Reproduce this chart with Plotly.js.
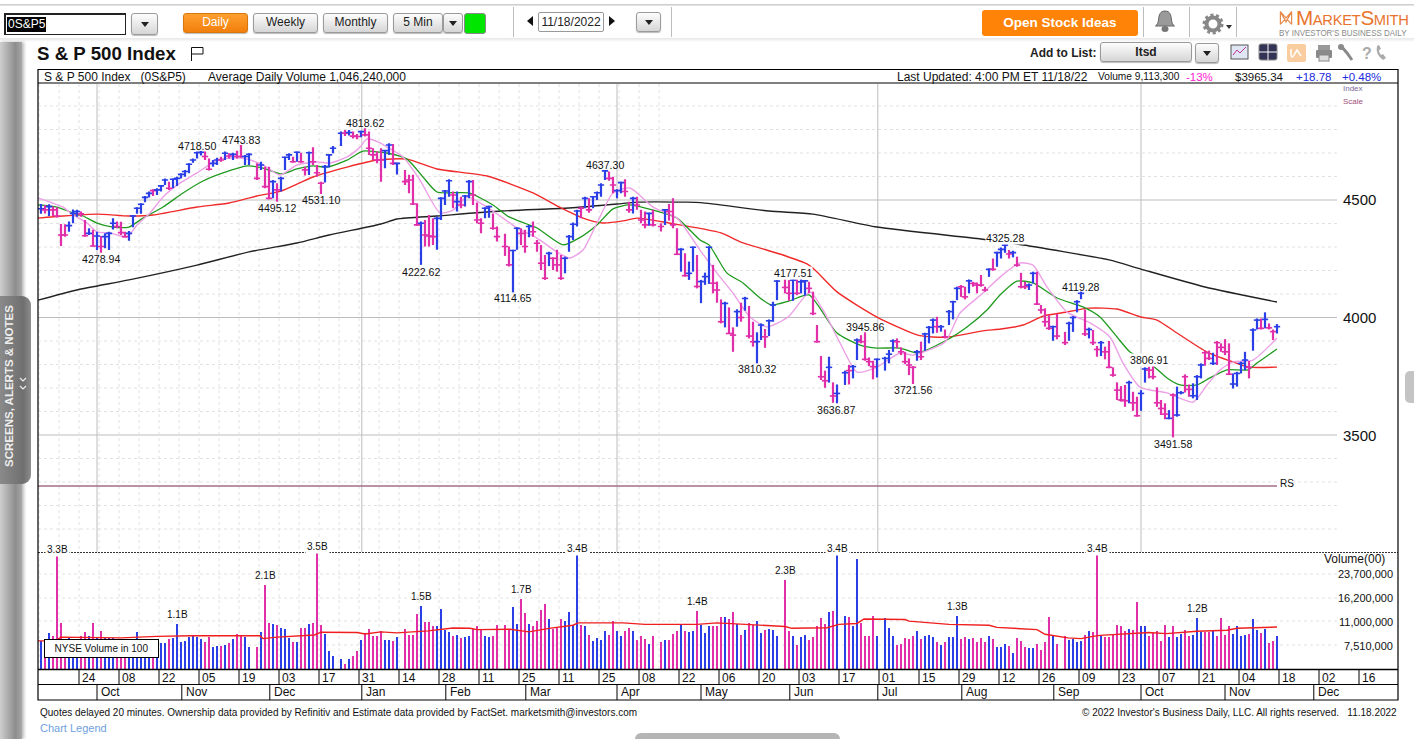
<!DOCTYPE html>
<html><head><meta charset="utf-8">
<script src="https://cdn.plot.ly/plotly-3.0.1.min.js"></script>
<style>
html,body{margin:0;padding:0;background:#fff;width:1414px;height:739px;overflow:hidden;font-family:"Liberation Sans",Arial,sans-serif;}
#chart{position:absolute;left:0;top:0;width:1414px;height:739px;}
.c{position:absolute;box-sizing:border-box;white-space:nowrap;}
.btn{border:1px solid #9a9a9a;border-radius:3px;background:linear-gradient(#fdfdfd,#d6d6d6);font-size:12px;color:#222;text-align:center;line-height:17px;box-shadow:0 1px 1px #bbb;}
.org{border:1px solid #d9770f;border-radius:3px;background:linear-gradient(#ffa030,#f27f0c);color:#fff;}
.dd:after{content:"";position:absolute;left:50%;top:50%;margin:-2px 0 0 -4px;border:4px solid transparent;border-top:5px solid #222;border-bottom:0;}
.sep{width:1px;background:#bdbdbd;top:7px;height:30px;}
</style></head><body>
<div id="chart"></div>

<!-- page chrome -->
<div class="c" style="left:0;top:0;width:1414px;height:6px;background:linear-gradient(#fff 60%,#c8c8c8 70%,#eee);"></div>
<div class="c" style="left:0;top:38px;width:1414px;height:4px;background:linear-gradient(#e6e6e6,#fff);"></div>
<div class="c" style="left:4px;top:13px;width:122px;height:22px;border:1px solid #222;border-left-width:2px;border-top-width:2px;background:#fff;"><span style="position:absolute;left:1px;top:2px;background:#000;color:#fff;font-size:12px;line-height:15px;padding:0 1px;">0S&amp;P5</span></div>
<div class="c btn dd" style="left:131px;top:13px;width:27px;height:22px;"></div>
<div class="c btn org" style="left:183px;top:13px;width:65px;height:20px;">Daily</div>
<div class="c btn" style="left:253px;top:13px;width:65px;height:20px;">Weekly</div>
<div class="c btn" style="left:323px;top:13px;width:65px;height:20px;">Monthly</div>
<div class="c btn" style="left:393px;top:13px;width:50px;height:20px;">5 Min</div>
<div class="c btn dd" style="left:443px;top:13px;width:20px;height:20px;"></div>
<div class="c" style="left:464px;top:13px;width:22px;height:21px;background:#00e600;border:1px solid #888;border-radius:3px;"></div>
<div class="c sep" style="left:513px;"></div>
<div class="c" style="left:527px;top:16px;border:5px solid transparent;border-right:6px solid #111;border-left:0;"></div>
<div class="c" style="left:538px;top:12px;width:66px;height:20px;border:1px solid #999;border-radius:2px;font-size:12px;line-height:18px;text-align:center;color:#222;">11/18/2022</div>
<div class="c" style="left:609px;top:16px;border:5px solid transparent;border-left:6px solid #111;border-right:0;"></div>
<div class="c btn dd" style="left:636px;top:12px;width:25px;height:20px;"></div>
<div class="c sep" style="left:671px;"></div>
<div class="c" style="left:982px;top:10px;width:156px;height:26px;background:#ff8306;border-radius:3px;color:#fff;font-weight:bold;font-size:13.5px;line-height:26px;text-align:center;">Open Stock Ideas</div>
<div class="c sep" style="left:1143px;"></div>
<svg class="c" style="left:1152px;top:10px;" width="26" height="24" viewBox="0 0 26 24"><path d="M13 1c-5 0-6 4-6.500 9-.3 3-1.500 5-3 6h19c-1.500-1-2.700-3-3-6C19 5 18 1 13 1z" fill="#9a9a9a" stroke="#666"/><ellipse cx="13" cy="19" rx="3.500" ry="3" fill="#777"/></svg>
<div class="c sep" style="left:1189px;"></div>
<svg class="c" style="left:1202px;top:13px;" width="22" height="22" viewBox="0 0 22 22"><circle cx="11" cy="11" r="6.500" fill="none" stroke="#888" stroke-width="4"/><circle cx="11" cy="11" r="9" fill="none" stroke="#888" stroke-width="3" stroke-dasharray="3 2.650"/></svg>
<div class="c" style="left:1226px;top:25px;border:3px solid transparent;border-top:4px solid #333;border-bottom:0;"></div>
<div class="c sep" style="left:1236px;"></div>
<svg class="c" style="left:1278px;top:10px;" width="16" height="16" viewBox="0 0 16 20"><path d="M1 18V2l7 13 7-13v16M1 2l14 16M15 2L1 18" fill="none" stroke="#e98a4a" stroke-width="1.500"/></svg>
<div class="c" style="left:1296px;top:6px;color:#e8742c;font-size:21px;font-variant:small-caps;line-height:24px;letter-spacing:-.3px;transform-origin:left;transform:scaleX(.98);">MarketSmith</div>
<div class="c" style="left:1279px;top:27px;color:#8a8a8a;font-size:9.500px;line-height:11px;transform-origin:left;transform:scaleX(.84);">BY INVESTOR'S BUSINESS DAILY</div>

<div class="c" style="left:37px;top:43px;font-size:18.700px;font-weight:bold;line-height:21px;color:#111;">S &amp; P 500 Index</div>
<svg class="c" style="left:190px;top:46px;" width="14" height="15" viewBox="0 0 14 15"><path d="M1.500 15V1.500H13V8H1.500" fill="none" stroke="#111"/></svg>
<div class="c" style="left:1030px;top:45px;font-size:13px;font-weight:bold;color:#222;line-height:15px;transform-origin:left;transform:scaleX(.92);">Add to List:</div>
<div class="c btn" style="left:1100px;top:42px;width:92px;height:20px;font-weight:bold;line-height:18px;">Itsd</div>
<div class="c btn dd" style="left:1195px;top:43px;width:24px;height:20px;"></div>
<svg class="c" style="left:1229px;top:43px;" width="172" height="20" viewBox="0 0 172 20">
<rect x="2" y="2" width="17" height="14" fill="#dfe6f4" stroke="#555"/><path d="M4 12l4-5 3 3 6-6" fill="none" stroke="#c2339a"/>
<rect x="30" y="1" width="18" height="16" rx="2" fill="#335" stroke="#888"/><path d="M39 1v16M30 9h18" stroke="#fff"/>
<rect x="58" y="1" width="19" height="18" rx="2" fill="#f9cda0"/><path d="M62 6v6q1 4 3 0l3-5 4 6" fill="none" stroke="#fff" stroke-width="1.500"/>
<rect x="89" y="2" width="12" height="5" fill="#999"/><rect x="87" y="7" width="16" height="8" rx="1" fill="#8a8a8a"/><rect x="90" y="12" width="10" height="6" fill="#ddd" stroke="#888"/>
<path d="M112 3l6 7 5 7" stroke="#8a8a8a" stroke-width="3" fill="none"/><circle cx="112" cy="4" r="3" fill="#8a8a8a"/>
<text x="133" y="16" font-size="16" font-weight="bold" fill="#aaa" font-family="Liberation Sans">?</text>
<path d="M148 3q-2 8 6 14l3-2-3-4-2 1q-2-2-2-5l2-1-2-4z" fill="#aaa"/></svg>

<!-- left panel -->
<div class="c" style="left:0;top:42px;width:22px;height:697px;background:linear-gradient(90deg,#cfcfcf,#8d8d8d 70%,#a8a8a8);box-shadow:2px 0 3px #bbb;"></div>
<div class="c" style="left:0;top:296px;width:31px;height:188px;background:linear-gradient(90deg,#8a8a8a,#6f6f6f 75%,#8d8d8d);border-radius:0 9px 9px 0;"></div>
<div class="c" style="left:9px;top:386px;width:0;height:0;"><div style="position:absolute;transform:translate(-50%,-50%) rotate(-90deg);color:#eee;font-weight:bold;font-size:11.500px;white-space:nowrap;">SCREENS, ALERTS &amp; NOTES</div></div>
<svg class="c" style="left:19px;top:376px;" width="8" height="16" viewBox="0 0 8 16"><path d="M1 2l3 3 3-3M1 10l3 3 3-3" fill="none" stroke="#eee" stroke-width="1.200"/></svg>
<div class="c" style="left:1405px;top:371px;width:9px;height:32px;background:#c4c4c4;border-radius:5px 0 0 5px;"></div>
<div class="c" style="left:635px;top:733px;width:205px;height:6px;background:#b5b5b5;border-radius:6px 6px 0 0;"></div>

<script>
// Direction of each weekday bar, Sep 13 2021 .. Nov 18 2022 (u = up, d = down, n = market closed)
const barDir = (
 "u d u d d d d u u u  d d u d u d u u u d  d d u u u u u u d u  u u d u u u u u u u  u d d u u d u d u d "+
 "d u u n d u d d u d  u u u d u d d u d d  d u u u n u d u d d  u d d d d d u u d u  n d d d d u d d d u "+
 "u u u d u d u u d d  d u u d d n d d u u  d d u d d d d u d d  d u u u u d u d u u  u u d d u u d d u d "+
 "d d u d n d u d d d  u d u u d u u u d d  d u d d u d u d d u  u d u u u n d d u d  u u d d d d d u d u "+
 "n u d u u d d d d u  n u u u d d d d d u  d u u u d u d u u u  d d u d d d d u d u  u u d u d d d u u d "+
 "d d d u d n d u u u  u d u d d u d d d d  d d u d d u u d d d  d d u d u u d d u u  u d d u d d d d u u "+
 "u u d u u d u d d u"
).trim().split(/\s+/);

const priceHigh = [
4483,4479,4482,4472,4469,4398,4397,4408,4460,4458, 4451,4415,4380,4373,4365,4347,4358,4365,4422,4408,
4407,4365,4368,4436,4469,4486,4517,4536,4546,4550, 4564,4592,4578,4592,4599,4614,4628,4656,4677,4706,
4709,4706,4677,4670,4680,4684,4706,4699,4701,4710, 4734,4692,4699,null,4656,4663,4642,4642,4585,4571,
4599,4684,4699,4684,4706,4701,4642,4706,4724,4649, 4578,4649,4694,4730,null,4791,4798,4798,4791,4781,
4795,4805,4791,4720,4706,4720,4713,4741,4738,4659, null,4628,4607,4607,4486,4408,4415,4436,4422,4429,
4512,4543,4588,4536,4536,4514,4521,4585,4585,4489, 4422,4469,4476,4443,4387,null,4356,4302,4288,4384,
4380,4373,4394,4408,4330,4309,4266,4280,4256,4288, 4266,4259,4351,4404,4458,4472,4514,4507,4517,4536,
4571,4628,4621,4599,4546,4578,4588,4493,4514,4514, 4458,4451,4446,4458,null,4401,4462,4483,4507,4380,
4295,4273,4238,4302,4266,4160,4191,4302,4224,4153, 4077,4067,4043,3958,4035,4063,4088,4049,3982,3937,
3975,3951,3992,4067,4159,null,4162,4159,4166,4162, 4163,4159,4152,4110,3968,3836,3774,3833,3724,3715,
null,3774,3798,3798,3911,3925,3937,3830,3816,3826, null,3833,3862,3907,3911,3873,3854,3826,3793,3862,
3897,3935,3964,3996,4003,3968,3949,4032,4071,4131, 4138,4131,4162,4152,4149,4181,4131,4209,4251,4280,
4298,4315,4287,4284,4259,4190,4152,4145,4195,4195, 4053,4039,4010,3965,4015,null,3939,3982,4006,4074,
4110,4034,3957,3947,3879,3900,3876,3900,3788,3724, 3708,3713,3731,3684,3663,3691,3788,3791,3798,3703,
3649,3635,3606,3677,3706,3687,3758,3715,3720,3755, 3805,3859,3859,3850,3900,3890,3908,3890,3762,3769,
3812,3854,3815,3954,3996,3996,4022,3975,3949,3972];

const priceLow = [
4441,4443,4432,4432,4426,4304,4344,4365,4401,4429, 4429,4344,4351,4302,4287,4276,4295,4287,4375,4380,
4351,4341,4327,4384,4441,4441,4490,4511,4517,4521, 4536,4564,4543,4550,4560,4592,4599,4614,4659,4677,
4689,4670,4625,4642,4649,4663,4670,4677,4670,4677, 4680,4649,4649,null,4585,4628,4550,4503,4507,4493,
4536,4628,4670,4659,4663,4659,4604,4606,4649,4599, 4526,4574,4638,4699,null,4730,4772,4774,4762,4758,
4767,4770,4692,4670,4656,4578,4635,4692,4649,4609, null,4564,4529,4479,4390,4224,4302,4302,4309,4288,
4415,4479,4514,4465,4451,4465,4472,4507,4479,4401, 4358,4422,4425,4373,4323,null,4262,4217,4107,4288,
4309,4276,4341,4344,4280,4202,4160,4219,4202,4195, 4160,4188,4280,4330,4387,4422,4465,4446,4465,4500,
4514,4585,4582,4529,4507,4529,4514,4446,4443,4458, 4401,4380,4390,4387,null,4366,4394,4412,4380,4266,
4195,4174,4160,4195,4124,4061,4139,4143,4103,4063, 3975,3958,3930,3854,3961,3982,4029,3911,3876,3805,
3904,3871,3921,3982,4074,null,4103,4071,4071,4095, 4103,4093,4103,4010,3893,3734,3701,3723,3637,3635,
null,3713,3715,3741,3819,3890,3816,3793,3737,3745, null,3774,3805,3854,3869,3840,3802,3755,3717,3816,
3819,3859,3890,3932,3935,3940,3911,3968,3992,4074, 4088,4077,4103,4131,4103,4131,4110,4173,4199,4216,
4251,4276,4251,4256,4216,4124,4121,4117,4145,4053, 4017,3961,3947,3901,3907,null,3883,3901,3939,4022,
4078,3921,3911,3883,3833,3836,3822,3784,3748,3649, 3642,3620,3635,3603,3578,3603,3723,3741,3737,3620,
3585,3567,3567,3490,3578,3673,3681,3663,3656,3649, 3741,3795,3819,3798,3798,3854,3840,3755,3698,3706,
3762,3776,3741,3859,3949,3949,3954,3949,3904,3932];

const priceClose = [
4463,4458,4472,4458,4432,4351,4351,4391,4443,4451, 4441,4348,4358,4304,4347,4302,4344,4358,4401,4387,
4361,4344,4358,4432,4465,4482,4511,4528,4540,4543, 4560,4585,4550,4588,4592,4609,4621,4652,4670,4701,
4703,4685,4631,4656,4670,4670,4699,4687,4694,4685, 4685,4685,4694,null,4592,4649,4557,4507,4578,4543,
4592,4682,4692,4663,4703,4663,4628,4701,4663,4616, 4571,4642,4692,4720,null,4784,4784,4787,4772,4770,
4791,4777,4720,4692,4670,4670,4710,4734,4656,4656, null,4578,4585,4483,4394,4401,4351,4347,4344,4422,
4507,4538,4582,4521,4493,4479,4517,4578,4521,4415, 4401,4465,4472,4380,4344,null,4302,4224,4285,4380,
4358,4302,4387,4365,4316,4231,4167,4273,4252,4224, 4167,4252,4344,4397,4453,4465,4507,4458,4514,4531,
4564,4624,4592,4564,4540,4574,4536,4458,4507,4479, 4415,4394,4443,4394,null,4387,4458,4451,4394,4269,
4290,4178,4188,4299,4132,4153,4174,4299,4146,4117, 3982,4060,3932,3925,4025,4000,4081,3921,3897,3897,
3968,3918,3986,4053,4155,null,4128,4103,4159,4103, 4152,4156,4124,4017,3897,3748,3731,3788,3666,3677,
null,3765,3774,3791,3904,3897,3822,3812,3791,3822, null,3826,3844,3900,3897,3854,3812,3798,3788,3854,
3833,3930,3958,3989,3961,3961,3918,4025,4067,4124, 4131,4088,4156,4145,4138,4138,4117,4205,4205,4276,
4290,4308,4270,4276,4223,4131,4131,4138,4188,4057, 4032,3982,3954,3961,3921,null,3893,3975,4000,4067,
4103,3930,3949,3893,3864,3893,3854,3788,3755,3691, 3649,3646,3723,3637,3582,3677,3781,3776,3748,3637,
3613,3589,3571,3670,3585,3680,3748,3694,3667,3748, 3798,3850,3826,3805,3893,3873,3854,3759,3717,3762,
3805,3819,3788,3947,3989,3954,3992,3956,3940,3961];

// Volume in millions of (00) shares, as on the right-hand scale
const volumeM = [
8.05,8.05,9.2,8.8,31.3,10.8,8.35,8.45,8.05,8.05, 8.7,9.35,8.7,10.8,8.6,9.5,8.45,8.45,8.45,8.05,
7.9,7.8,7.8,7.9,9.35,7.95,7.8,7.8,7.8,7.9, 7.85,7.8,8.3,8.5,10.6,7.95,8.05,8.6,8.8,8.6,
8.35,8.0,8.6,7.4,7.5,7.5,7.6,7.8,8.3,9.0, 8.95,8.6,7.3,null,7.3,9.35,19.8,10.8,10.55,10.5,
10,9.8,8.5,7.95,7.95,9.9,10,10.6,10.8,33, 10.5,9.1,6.9,6.4,null,6.1,5.6,6.1,6.4,6.85,
8.2,9.2,9.8,8.7,8.7,9.5,8.2,8.2,8.05,8.6, null,9.8,8.95,8.95,12.4,14.2,11,11,10.2,10.2,
13.5,9.7,9.3,8.7,8.85,8.45,8.6,8.7,9.8,10.3, 9.8,8.8,8.6,8.8,10.5,null,10.5,9.8,14,10.6,
15.9,12.6,10.6,10.2,11.2,13.3,14.7,11.4,9.75,9.95, 11.4,11.2,12.9,10.5,32.2,10.5,10.2,8.95,8.05,8.45,
8.2,9.5,8.95,11.2,9.5,8.8,9.5,10,9.5,8.2, 8.8,8.3,7.75,8.8,null,7.95,8.2,8.2,9.05,9.5,
10.5,9.5,9.35,9.5,13.1,10.5,9.2,10.3,10.3,10.2, 11.9,11.9,11.4,12.9,10.6,8.95,9.65,10.8,10.5,11.2,
9.2,9.65,9.8,9.65,8.8,null,21.5,9.5,8.7,7.6, 8.6,8.95,8.2,8.6,10.2,11.6,10.6,12.9,13.1,31.9,
null,12.1,11.9,10.3,30.1,10.8,8.8,8.8,12.1,8.8, null,11.6,10,8.7,7.6,7.75,8.45,8.3,8.7,9.5,
8.3,8.7,8.95,8.6,7.95,7.6,7.95,8.6,8.6,12.1, 8.3,8.6,8.3,8.45,7.95,8.45,7.95,8.7,8.3,7.4,
7.3,7.75,7.5,6.7,8.45,8.05,7.4,7.2,7.2,7.75, 7.0,7.95,11.9,8.7,7.75,null,8.8,8.2,8.3,7.95,
8.05,8.95,9.5,9.35,31.9,8.7,8.6,8.6,8.95,10.5, 10.2,9.5,9.8,9.65,15.2,10.3,10.3,8.8,9.2,9.5,
8.05,10.5,8.6,10.3,8.6,9.05,9.65,8.7,8.95,11.6, 9.35,9.35,9.35,9.65,8.7,11.6,8.95,10.2,9.05,10.3,
8.8,8.95,9.05,11.4,9.65,9.2,9.8,7.85,8.05,8.7];

// Moving averages: bar position, value
const ma200Idx = [-0.75,9,22,39,52,64,72,85,89,99,115,132,144,149,161,165,182,193,209,235,244,267,275,291,309];
const ma200Val = [4074,4117,4160,4223,4279,4317,4351,4398,4419,4432,4453,4466,4483,4491,4491,4489,4453,4440,4385,4334,4313,4245,4206,4130,4066];

const ma50Idx = [-0.75,5.5,14,22,28,39,47,54,60,68,76.5,84,91.5,99,111.5,123,130,135.5,140.5,145.5,149,157,170,175,185.5,191.5,193.5,199,209,219,223,227,235.5,240,245.5,250.5,255,262,269,275,279,284,291.5,298,302,309];
const ma50Val = [4423,4432,4440,4432,4436,4470,4487,4517,4538,4598,4640,4670,4674,4632,4602,4530,4466,4423,4402,4411,4423,4402,4360,4321,4266,4228,4202,4109,4002,3926,3917,3917,3943,3951,3968,4006,4019,4040,4036,4002,3989,3934,3853,3811,3789,3789];

const ma21Idx = [-0.75,4,8,10.5,14,18,22,25.5,30.5,35.5,40.5,45.5,51.5,55.5,60,64,68,71.5,76.5,80.5,84.5,86.5,91.5,95.5,99,107,113,117,124,130.5,134.5,139,143,147,153,159,164.75,167,171.5,175.5,179.75,182.75,187,192,199,204.75,209,214.75,219,226,231.5,236.5,239.75,244,248,254,260.5,264.75,269,272.25,277.75,281.5,284.75,289,292.25,296.5,301.75,304,309];
const ma21Val = [4479,4470,4445,4432,4402,4385,4385,4423,4470,4530,4581,4615,4645,4636,4611,4632,4645,4640,4670,4708,4704,4700,4674,4598,4534,4530,4479,4428,4381,4309,4338,4394,4462,4479,4457,4423,4330,4309,4189,4147,4083,4053,4070,4096,3934,3883,3870,3870,3849,3900,3960,4032,4096,4155,4147,4083,4045,4002,3917,3853,3798,3743,3713,3713,3743,3777,3777,3806,3866];

const ma10Idx = [-0.75,2.25,5.5,8,11.5,14,17.25,21.5,24,27.25,30.5,34.75,39,44,47.25,51.5,55.5,59.75,64,69,72.25,76.5,79.75,81.5,84.75,86.5,90.5,94.75,99.75,103,106.5,111.5,115.5,119,124,129,132.25,135.5,139,143,147.25,153,159,164.75,169,173,177.25,181.5,186.75,192.25,195.5,199.75,204,209,214.75,218,226,229.75,235.5,239.75,244.75,248,251.5,256.5,262.25,267.25,270.5,274.75,281.5,288,291.5,294.75,298,303,309];
const ma10Val = [4509,4491,4470,4436,4402,4364,4360,4343,4394,4445,4513,4572,4615,4670,4679,4674,4649,4606,4649,4662,4657,4683,4725,4760,4743,4725,4683,4585,4445,4457,4513,4470,4423,4381,4338,4279,4253,4287,4402,4530,4551,4470,4423,4287,4189,4104,4002,3960,4002,4109,4032,3892,3768,3789,3849,3840,3896,4019,4104,4172,4232,4223,4130,4023,3977,3917,3806,3704,3679,3640,3713,3777,3811,3819,3913];

const volMaIdx = [-0.75,3.5,5,20,29,37.5,51,54.7,55.5,59,68.4,70,79,81,85,89,96.75,103,107.25,109,117.25,122,127,133,134.25,145.5,151,164,169,176,186,187.75,196.5,199.5,204,205.75,216,217,227,237,239,249,251,256.75,260,263,264.75,277,281.25,289,296.5,299,309];
const volMaVal = [8.1,8.1,8.6,8.5,8.7,8.8,8.8,8.8,8.4,8.6,8.9,9.3,9.25,9.05,9.35,9.2,9.5,9.95,9.9,9.7,9.75,9.35,9.9,10.4,10.8,10.8,10.55,10.55,10.8,10.5,10.2,9.9,10,10.55,10.7,11.5,11.4,11.1,10.55,10.4,10.05,9.7,9,8.5,8.4,8.7,8.85,9.25,9.1,9.45,9.6,9.9,10.1];

const rsIdx = [-0.75,309];
const rsVal = [3283,3283];

const peakIdx   = [15,39,50,81,59,70,95,118,141,179,188,198.75,206,218,241,260,277,283];
const peakY     = [4249,4728,4755,4828,4466,4500,4194,4083,4649,3781,4189,3606,3960,3692,4338,4130,3819,3462];
const peakText  = ["4278.94","4718.50","4743.83","4818.62","4495.12","4531.10","4222.62","4114.65","4637.30","3810.32","4177.51","3636.87","3945.86","3721.56","4325.28","4119.28","3806.91","3491.58"];

const volLabelIdx  = [4,34,56,69,95,120,134,164,186,199,229,264,289];
const volLabelText = ["3.3B","1.1B","2.1B","3.5B","1.5B","1.7B","3.4B","1.4B","2.3B","3.4B","1.3B","3.4B","1.2B"];

const priceTicks = [4500,4000,3500];
const volTicks = [23.7,16.2,11,7.51];
const volTickText = ["23,700,000","16,200,000","11,000,000","7,510,000"];

const weekLabels = ["24","08","22","05","19","03","17","31","14","28","11","25","11","25","08","22","06","20","03","17","01","15","29","12","26","09","23","07","21","04","18","02","16"];
const monthLabels = ["Oct","Nov","Dec","Jan","Feb","Mar","Apr","May","Jun","Jul","Aug","Sep","Oct","Nov","Dec"];
const monthIdx = [14,35.2,57.2,80.2,101.2,121.2,144,165,187.2,209.2,230.2,253.2,275,296,318.2];
const quarterIdx = [14,80.2,144,209.2,275];

const BLUE="#2a3fe6", MAG="#e02fa8", FONT="Liberation Sans, Arial, sans-serif";
const W=1414,H=739,FX0=38,FX1=1398;
const px=x=>x/W, py=y=>1-y/H;
const idx=priceClose.map((_,i)=>i);
const X0=-0.75, X1=339.25, XGRID=324;

function stems(d){const x=[],y=[];idx.forEach(i=>{if(barDir[i]===d&&priceHigh[i]!==null){x.push(i,i,null);y.push(priceHigh[i],priceLow[i],null);}});return{x,y};}
const up=stems("u"),dn=stems("d");
const closeI=idx.filter(i=>priceClose[i]!==null);

const line=(x,y,c,w,ya)=>({type:"scatter",mode:"lines",x,y,yaxis:ya||"y",line:{color:c,width:w},hoverinfo:"skip"});
const curve=(x,y,c,w,ya)=>({type:"scatter",mode:"lines",x,y,yaxis:ya||"y",line:{color:c,width:w,shape:"spline",smoothing:0.6},hoverinfo:"skip"});
const traces=[
 line(rsIdx,rsVal,"#a56c8a",1.6),
 curve(ma200Idx,ma200Val,"#222222",1.4),
 curve(ma50Idx,ma50Val,"#f02a2a",1.4),
 curve(ma21Idx,ma21Val,"#1f9a1f",1.3),
 curve(ma10Idx,ma10Val,"#eda0e6",1.4),
 line(up.x,up.y,BLUE,2.2),
 line(dn.x,dn.y,MAG,2.2),
 {type:"scatter",mode:"markers",x:closeI,y:closeI.map(i=>priceClose[i]),hoverinfo:"skip",
  marker:{symbol:"line-ew",size:4.5,line:{width:1.6,color:closeI.map(i=>barDir[i]==="u"?BLUE:MAG)}}},
 {type:"bar",x:idx,y:volumeM,yaxis:"y2",width:0.6,hoverinfo:"skip",
  marker:{color:idx.map(i=>barDir[i]==="u"?BLUE:MAG),line:{width:0}}},
 line(volMaIdx,volMaVal,"#f01f1f",1.4,"y2")
];

const shapes=[];
const hline=(y0,x0,x1,c,w,dash,xr,layer)=>shapes.push({type:"line",xref:xr||"paper",yref:"paper",x0,x1,y0,y1:y0,line:{color:c,width:w,dash:dash||"solid"},layer:layer||"below"});
const vline=(x,y0,y1,c,w,dash,layer)=>shapes.push({type:"line",xref:"x",yref:"paper",x0:x,x1:x,y0,y1,line:{color:c,width:w,dash:dash||"solid"},layer:layer||"below"});
const priceY=p=>py(200+(4500-p)/4.255);
// price grid
for(let p=3100;p<=4900;p+=100){const solid=priceTicks.includes(p);
 hline(priceY(p),X0,XGRID,solid?"#bdbdbd":"#e2e2e2",1,solid?"solid":"3px,3px","x");}
for(let k=0;k<=31;k++){const x=-0.5+5*k;
 vline(x,py(84),py(552),"#e2e2e2",1,"3px,3px");
 vline(x,py(552),py(669),"#e2e2e2",1,"3px,3px");}
quarterIdx.forEach(q=>vline(q,py(84),py(552),"#bdbdbd",1));
[574,598,621,645].forEach(y=>hline(py(y),X0,XGRID,"#e2e2e2",1,"3px,3px","x"));
// frame
shapes.push({type:"rect",xref:"paper",yref:"paper",x0:px(FX0),x1:px(FX1),y0:py(700),y1:py(69.5),line:{color:"#000",width:1.2},layer:"above"});
hline(py(83),px(FX0),px(FX1),"#000",1,"solid",null,"above");
hline(py(552.5),px(FX0),px(FX1),"#333",1,"2px,1px",null,"below");
hline(py(669.5),px(FX0),px(FX1),"#000",1.4,"solid",null,"above");
hline(py(684.5),px(FX0),px(FX1),"#000",1,"solid",null,"above");
const ann=[];
const T=(x,y,text,size,opt)=>ann.push(Object.assign({xref:"paper",yref:"paper",x:px(x),y:py(y),text,showarrow:false,xanchor:"left",yanchor:"middle",font:{family:FONT,size:size||11,color:"#111"},borderpad:0},opt||{}));
// week and month rows
weekLabels.forEach((t,k)=>{const x=9.5+10*k;
 shapes.push({type:"line",xref:"x",yref:"paper",x0:x,x1:x,y0:py(669.5),y1:py(684.5),line:{color:"#000",width:1},layer:"above"});
 ann.push({xref:"x",yref:"paper",x:x,xshift:1.5,y:py(677.5),text:t,showarrow:false,xanchor:"left",yanchor:"middle",font:{family:FONT,size:12,color:"#111"},borderpad:0});
});
monthLabels.forEach((t,k)=>{const x=monthIdx[k];
 shapes.push({type:"line",xref:"x",yref:"paper",x0:x,x1:x,y0:py(684.5),y1:py(700),line:{color:"#000",width:1},layer:"above"});
 ann.push({xref:"x",yref:"paper",x:x,xshift:3,y:py(692),text:t,showarrow:false,xanchor:"left",yanchor:"middle",font:{family:FONT,size:12,color:"#111"},borderpad:0});
});
// peaks and troughs
peakText.forEach((t,k)=>{const gap=["4177.51","4325.28","3806.91"].includes(t);
 ann.push({xref:"x",yref:"y",x:peakIdx[k],y:peakY[k],text:t,showarrow:false,xanchor:"center",yanchor:"middle",font:{family:FONT,size:10.6,color:"#111"},borderpad:0,bgcolor:gap?"#fff":"rgba(0,0,0,0)"});
});
// volume labels
volLabelText.forEach((t,k)=>{const i=volLabelIdx[k],big=volumeM[i]>25;
 ann.push({xref:"x",yref:"y2",x:i,y:Math.log10(Math.min(volumeM[i],33)),yshift:big?-1:2,text:t,showarrow:false,xanchor:"center",yanchor:"bottom",font:{family:FONT,size:10,color:"#111"},borderpad:1,bgcolor:big?"#fff":"rgba(0,0,0,0)"});
});
// price scale
priceTicks.forEach(p=>ann.push({xref:"paper",yref:"y",x:px(1342),y:p,text:String(p),showarrow:false,xanchor:"left",yanchor:"middle",font:{family:FONT,size:15,color:"#111"},borderpad:0}));
// volume scale
volTicks.forEach((v,k)=>ann.push({xref:"paper",yref:"y2",x:px(1394),y:Math.log10(v),text:volTickText[k],showarrow:false,xanchor:"right",yanchor:"middle",font:{family:FONT,size:11,color:"#111"},borderpad:0}));
T(1323,559,"Volume(00)",12);
T(1279,483.5,"RS",10);
T(1342,89,"Index",8,{font:{family:FONT,size:8,color:"#7a6a9a"}});
T(1342,101,"Scale",8,{font:{family:FONT,size:8,color:"#a0507a"}});
// chart header
T(43,76.5,"S &amp; P 500 Index&nbsp;&nbsp;&nbsp;(0S&amp;P5)",12);
T(207,76.5,"Average Daily Volume 1,046,240,000",12);
T(896,76.5,"Last Updated: 4:00 PM ET 11/18/22",12);
T(1097,76.5,"Volume 9,113,300",10.2);
T(1185,76.5,"-13%",11.5,{font:{family:FONT,size:11.5,color:"#ff20d0"}});
T(1234,76.5,"$3965.34",11.5);
T(1295,76.5,"+18.78",11.5,{font:{family:FONT,size:11.5,color:"#1a2be0"}});
T(1341,76.5,"+0.48%",11.5,{font:{family:FONT,size:11.5,color:"#1a2be0"}});
// box, footer
ann.push({xref:"paper",yref:"paper",x:px(44),y:py(648.5),text:"NYSE Volume in 100",showarrow:false,xanchor:"left",yanchor:"middle",align:"center",width:113,height:17,bgcolor:"#fff",bordercolor:"#000",borderwidth:1,borderpad:0,font:{family:FONT,size:10,color:"#111"}});
T(39,712,"Quotes delayed 20 minutes. Ownership data provided by Refinitiv and Estimate data provided by FactSet. marketsmith@investors.com",10);
T(1398,712,"© 2022 Investor's Business Daily, LLC. All rights reserved.&nbsp;&nbsp;&nbsp;11.18.2022",10,{xanchor:"right"});
T(39,728,"Chart Legend",11,{font:{family:FONT,size:11,color:"#6f9fe0"}});

const layout={
 width:W,height:H,margin:{l:0,r:0,t:0,b:0,pad:0},paper_bgcolor:"rgba(0,0,0,0)",plot_bgcolor:"rgba(0,0,0,0)",
 showlegend:false,barmode:"overlay",bargap:0,hovermode:false,
 xaxis:{domain:[px(FX0),px(FX1)],range:[X0,X1],anchor:"y2",showgrid:false,zeroline:false,showticklabels:false,ticks:"",showline:false,fixedrange:true},
 yaxis:{domain:[py(552.3),py(84)],range:[4500+(200-552.3)*4.255,4500+(200-84)*4.255],showgrid:false,zeroline:false,showticklabels:false,ticks:"",showline:false,fixedrange:true},
 yaxis2:{domain:[py(669.3),py(552.3)],type:"log",range:[Math.log10(5.14),Math.log10(33.4)],showgrid:false,zeroline:false,showticklabels:false,ticks:"",showline:false,fixedrange:true},
 shapes,annotations:ann
};
Plotly.newPlot("chart",traces,layout,{displayModeBar:false,staticPlot:true});
</script>
</body></html>
